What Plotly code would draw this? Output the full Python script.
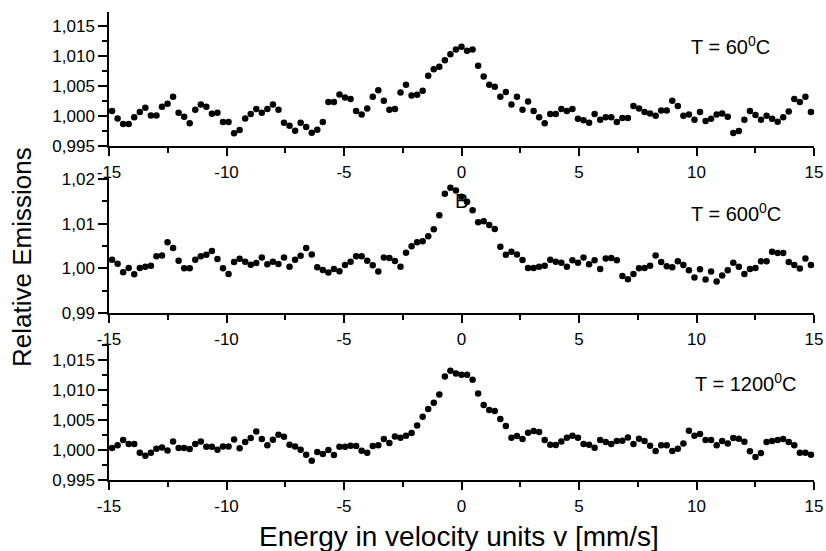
import numpy as np
import plotly.graph_objects as go

# velocity channels (equally spaced grid of the spectrometer)
velocity = np.linspace(-14.87, 14.87, 127)

emission_60 = [
    1.00083, 0.99961, 0.99867, 0.99867, 0.99978, 1.00067, 1.00139, 1.00011, 1.00011, 1.00156,
    1.00206, 1.00322, 1.00056, 0.99989, 0.99878, 1.00106, 1.00194, 1.00156, 1.00039, 1.00056,
    0.99900, 0.99900, 0.99711, 0.99767, 0.99961, 1.00033, 1.00117, 1.00056, 1.00117, 1.00194,
    1.00106, 0.99889, 0.99839, 0.99756, 0.99889, 0.99817, 0.99722, 0.99772, 0.99900, 1.00233,
    1.00233, 1.00361, 1.00311, 1.00283, 1.00083, 1.00028, 1.00128, 1.00322, 1.00433, 1.00256,
    1.00106, 1.00117, 1.00394, 1.00522, 1.00344, 1.00356,
    1.00422, 1.00672, 1.00783, 1.00822, 1.00933, 1.01033, 1.01111, 1.01156, 1.01089, 1.01111,
    1.00839, 1.00661, 1.00522, 1.00489, 1.00322, 1.00400, 1.00194, 1.00322, 1.00106, 1.00244,
    1.00083, 0.99978, 0.99878, 1.00033, 1.00033, 1.00117, 1.00083, 1.00117, 0.99956, 0.99928,
    0.99889, 1.00033, 0.99939, 0.99978, 0.99978, 0.99900, 0.99967, 0.99967, 1.00167, 1.00128,
    1.00067, 1.00044, 1.00006, 1.00094, 1.00094, 1.00256, 1.00167, 1.00006, 1.00028, 0.99939,
    1.00067, 0.99917, 0.99956, 1.00028, 1.00044, 0.99989, 0.99717, 0.99750, 0.99939, 1.00083,
    1.00017, 0.99939, 1.00006, 0.99956, 0.99906, 0.99978, 1.00078, 1.00283, 1.00233, 1.00322,
    1.00067,
]

emission_600 = [
    1.00193, 1.00104, 0.99911, 1.00007, 0.99867, 1.00007, 1.00037, 1.00059, 1.00267, 1.00289,
    1.00585, 1.00452, 1.00170, 1.00000, 1.00000, 1.00193, 1.00267, 1.00304, 1.00385, 1.00207,
    1.00000, 0.99874, 1.00141, 1.00215, 1.00148, 1.00081, 1.00119, 1.00244, 1.00089, 1.00148,
    1.00096, 1.00244, 1.00037, 1.00193, 1.00281, 1.00452, 1.00311, 1.00022, 0.99963, 0.99904,
    0.99985, 0.99933, 1.00074, 1.00148, 1.00267, 1.00267, 1.00170, 1.00067, 0.99926, 1.00244,
    1.00230, 1.00163, 1.00037, 1.00348, 1.00496, 1.00585,
    1.00607, 1.00719, 1.00874, 1.01185, 1.01667, 1.01800, 1.01741, 1.01600, 1.01489, 1.01296,
    1.01030, 1.01052, 1.00970, 1.00881, 1.00481, 1.00304, 1.00370, 1.00311, 1.00185, 1.00007,
    1.00007, 1.00037, 1.00059, 1.00193, 1.00148, 1.00126, 1.00037, 1.00178, 1.00126, 1.00244,
    1.00089, 1.00178, 0.99985, 1.00222, 1.00230, 1.00178, 0.99830, 0.99756, 0.99874, 1.00000,
    1.00007, 1.00059, 1.00289, 1.00141, 1.00044, 1.00022, 1.00156, 1.00074, 0.99956, 0.99793,
    0.99978, 0.99748, 0.99926, 0.99704, 0.99837, 0.99956, 1.00126, 1.00037, 0.99874, 0.99985,
    1.00007, 1.00156, 1.00156, 1.00370, 1.00341, 1.00341, 1.00141, 1.00074, 0.99993, 1.00222,
    1.00074,
]

emission_1200 = [
    1.00033, 1.00078, 1.00167, 1.00100, 1.00100, 0.99956, 0.99906, 0.99956, 1.00022, 1.00044,
    0.99994, 1.00144, 1.00033, 1.00033, 1.00017, 1.00100, 1.00144, 1.00056, 1.00056, 1.00006,
    1.00061, 1.00061, 1.00178, 1.00028, 1.00133, 1.00200, 1.00311, 1.00183, 1.00078, 1.00172,
    1.00256, 1.00222, 1.00089, 1.00061, 1.00006, 0.99922, 0.99822, 0.99967, 0.99933, 1.00000,
    0.99917, 1.00056, 1.00056, 1.00072, 1.00067, 0.99989, 0.99956, 1.00067, 1.00078, 1.00183,
    1.00117, 1.00228, 1.00206, 1.00239, 1.00283, 1.00411,
    1.00556, 1.00683, 1.00789, 1.00928, 1.01228, 1.01322, 1.01278, 1.01256, 1.01256, 1.01172,
    1.00944, 1.00750, 1.00667, 1.00650, 1.00517, 1.00400, 1.00206, 1.00233, 1.00183, 1.00289,
    1.00317, 1.00300, 1.00167, 1.00089, 1.00083, 1.00144, 1.00206, 1.00239, 1.00206, 1.00100,
    1.00089, 1.00039, 1.00167, 1.00133, 1.00100, 1.00150, 1.00156, 1.00211, 1.00100, 1.00189,
    1.00150, 1.00072, 0.99983, 1.00078, 1.00078, 0.99983, 1.00022, 1.00111, 1.00322, 1.00239,
    1.00267, 1.00167, 1.00167, 1.00078, 1.00150, 1.00111, 1.00200, 1.00189, 1.00139, 0.99978,
    0.99883, 0.99950, 1.00133, 1.00150, 1.00167, 1.00183, 1.00133, 1.00078, 0.99956, 0.99956,
    0.99922,
]

panel_labels = ["T = 60<sup>0</sup>C", "T = 600<sup>0</sup>C", "T = 1200<sup>0</sup>C"]

x_tick_vals = [-15, -10, -5, 0, 5, 10, 15]
x_tick_text = ["-15", "-10", "-5", "0", "5", "10", "15"]
y_tick_vals_fine = [0.995, 1.000, 1.005, 1.010, 1.015]
y_tick_text_fine = ["0,995", "1,000", "1,005", "1,010", "1,015"]
y_tick_vals_coarse = [0.99, 1.00, 1.01, 1.02]
y_tick_text_coarse = ["0,99", "1,00", "1,01", "1,02"]

FONT = "Liberation Sans, Arial, sans-serif"
TICKFONT = dict(family=FONT, size=17, color="black")

fig = go.Figure()
series = [emission_60, emission_600, emission_1200]
for i, ys in enumerate(series):
    sfx = "" if i == 0 else str(i + 1)
    fig.add_trace(go.Scatter(
        x=velocity, y=ys, mode="markers",
        marker=dict(color="black", size=6.5),
        xaxis="x" + sfx, yaxis="y" + sfx, showlegend=False,
        cliponaxis=False,
    ))

domains = [[0.7137, 1.0], [0.3568, 0.6453], [0.0, 0.2906]]
yranges = [[0.995, 1.01738], [0.99, 1.0202], [0.995, 1.0177]]
ydticks = [0.0025, 0.005, 0.0025]
yvals = [y_tick_vals_fine, y_tick_vals_coarse, y_tick_vals_fine]
ytexts = [y_tick_text_fine, y_tick_text_coarse, y_tick_text_fine]

layout = dict(
    template="none",
    width=826, height=551,
    margin=dict(l=109, r=12, t=12, b=71),
    paper_bgcolor="white", plot_bgcolor="white",
    showlegend=False,
    font=dict(family=FONT, color="black"),
)

for i in range(3):
    sfx = "" if i == 0 else str(i + 1)
    layout["xaxis" + sfx] = dict(
        domain=[0, 1], anchor="y" + sfx, range=[-15, 15],
        tickmode="array", tickvals=x_tick_vals, ticktext=x_tick_text,
        ticks="outside", ticklen=8, tickwidth=1.5, tickcolor="black",
        minor=dict(tickmode="linear", tick0=-15, dtick=2.5, ticks="outside",
                   ticklen=5, tickwidth=1.5, tickcolor="black", showgrid=False),
        showline=True, linecolor="black", linewidth=1.5,
        showgrid=False, zeroline=False, tickfont=TICKFONT,
        ticklabelstandoff=2, automargin=False,
    )
    layout["yaxis" + sfx] = dict(
        domain=domains[i], anchor="x" + sfx, range=yranges[i],
        tickmode="array", tickvals=yvals[i], ticktext=ytexts[i],
        ticks="outside", ticklen=9, tickwidth=1.5, tickcolor="black",
        minor=dict(tickmode="linear", tick0=0.99, dtick=ydticks[i], ticks="outside",
                   ticklen=5, tickwidth=1.5, tickcolor="black", showgrid=False),
        showline=True, linecolor="black", linewidth=1.5,
        showgrid=False, zeroline=False, tickfont=TICKFONT, automargin=False,
    )

fig.update_layout(**layout)

label_pos = [(9.68, 1.01183), (9.68, 1.01244), (9.85, 1.01122)]
for i, (lx, ly) in enumerate(label_pos):
    sfx = "" if i == 0 else str(i + 1)
    fig.add_annotation(text=panel_labels[i], x=lx, y=ly, xref="x" + sfx, yref="y" + sfx,
                       xanchor="left", yanchor="middle", showarrow=False,
                       font=dict(family=FONT, size=20, color="black"))

fig.add_annotation(text="B", x=0.0, y=1.0151, xref="x2", yref="y2",
                   xanchor="center", yanchor="middle", showarrow=False,
                   font=dict(family=FONT, size=20, color="black"))

fig.add_annotation(text="Relative Emissions", textangle=-90,
                   x=-0.1234, y=0.4765, xref="paper", yref="paper",
                   xanchor="center", yanchor="middle", showarrow=False,
                   font=dict(family=FONT, size=26, color="black"))

fig.add_annotation(text="Energy in velocity units v [mm/s]",
                   x=0.497, y=-0.121, xref="paper", yref="paper",
                   xanchor="center", yanchor="middle", showarrow=False,
                   font=dict(family=FONT, size=28, color="black"))

fig.write_html("out.html", config={"displayModeBar": False},
               post_script="document.body.style.margin='0px';document.body.style.padding='0px';")
